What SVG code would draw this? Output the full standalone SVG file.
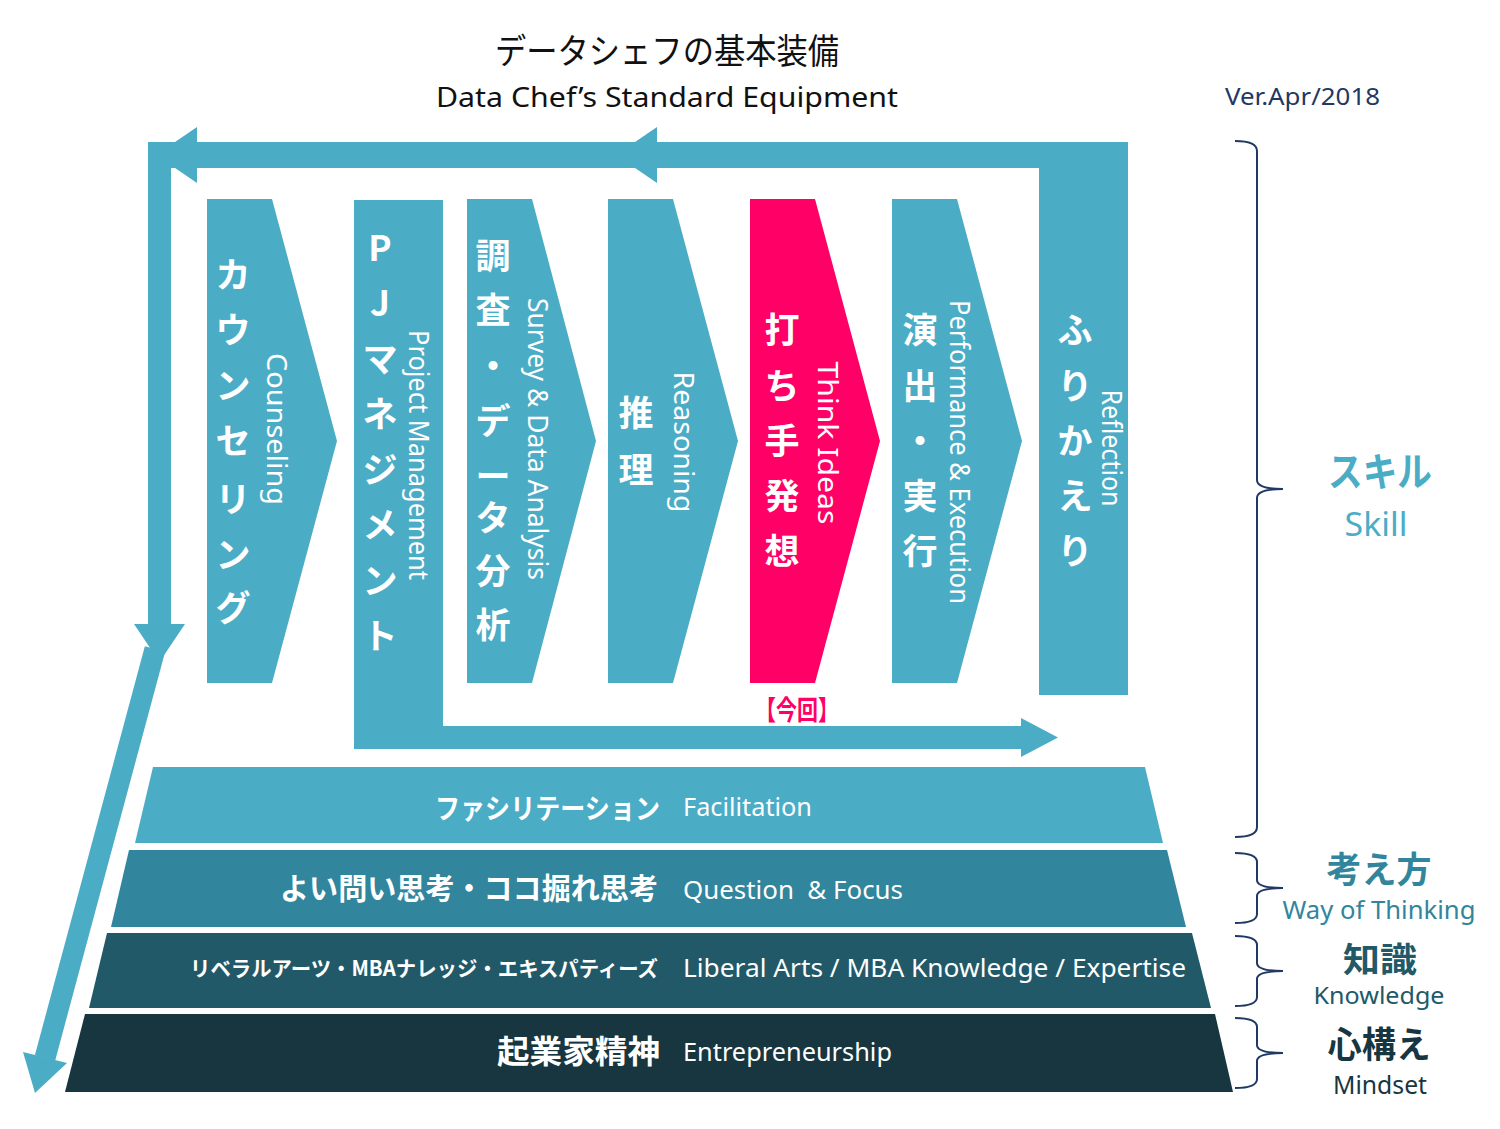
<svg xmlns="http://www.w3.org/2000/svg" width="1500" height="1129" viewBox="0 0 1500 1129">
<style>
.sk{fill:#4BACC6}
.pk{fill:#FF0066}
.jp{font-family:"Noto Sans CJK JP","Noto Sans",sans-serif;font-weight:700;fill:#fff;font-size:35px}
.en{font-family:"Noto Sans","Open Sans","Noto Sans CJK JP",sans-serif;fill:#fff;font-size:27px}
.lj{font-family:"Noto Sans CJK JP",sans-serif;font-weight:700;fill:#fff}
.le{font-family:"Noto Sans","Open Sans","Noto Sans CJK JP",sans-serif;fill:#fff;font-size:26px}
.brace{fill:none;stroke:#1F3864;stroke-width:2}
.rj{font-family:"Noto Sans CJK JP",sans-serif;font-weight:700;text-anchor:middle}
.re{font-family:"Noto Sans","Open Sans",sans-serif;text-anchor:middle}
</style>
<rect width="1500" height="1129" fill="#fff"/>

<g id="title">
<text x="667" y="64" font-family="Noto Sans CJK JP,sans-serif" font-size="35" fill="#111" text-anchor="middle" textLength="344" lengthAdjust="spacingAndGlyphs">データシェフの基本装備</text>
<text x="667" y="107" font-family="Noto Sans,Open Sans,sans-serif" font-size="28" fill="#111" text-anchor="middle" textLength="462" lengthAdjust="spacingAndGlyphs">Data Chef’s Standard Equipment</text>
<text x="1225" y="105" font-family="Noto Sans,Open Sans,sans-serif" font-size="24" fill="#1F3864" textLength="155" lengthAdjust="spacingAndGlyphs">Ver.Apr/2018</text>
</g>

<g id="connectors">
<rect class="sk" x="148" y="142" width="980" height="26"/>
<polygon class="sk" points="197,127 197,183 156,155"/>
<polygon class="sk" points="657,127 657,183 616,155"/>
<rect class="sk" x="148" y="142" width="23" height="483"/>
<polygon class="sk" points="134,624 185,624 159.5,662"/>
<line x1="155" y1="649" x2="45" y2="1058" stroke="#4BACC6" stroke-width="21"/>
<polygon class="sk" points="23,1052 67,1063 35,1093"/>
</g>

<g id="n-counseling">
<polygon class="sk" points="207,199 272,199 337,441 272,683 207,683"/>
<text class="jp" text-anchor="middle" dominant-baseline="central" x="233 233 233 233 233 233 233" y="272 327 383 438 496 552 605">カウンセリング</text>
<text class="en" text-anchor="middle" dominant-baseline="central" transform="translate(277,429) rotate(90)" textLength="152" lengthAdjust="spacingAndGlyphs">Counseling</text>
</g>

<g id="n-pj">
<rect class="sk" x="354" y="200" width="89" height="549"/>
<rect class="sk" x="443" y="726" width="579" height="23"/>
<polygon class="sk" points="1021,718 1021,757 1058,737.5"/>
<text class="jp" text-anchor="middle" dominant-baseline="central" x="380 380 380 380 380 380 380 380" y="245 300 356 411 467 522 578 633">PJマネジメント</text>
<text class="en" text-anchor="middle" dominant-baseline="central" transform="translate(419,455) rotate(90)" textLength="250" lengthAdjust="spacingAndGlyphs">Project Management</text>
</g>

<g id="n-survey">
<polygon class="sk" points="467,199 532,199 596,441 532,683 467,683"/>
<text class="jp" text-anchor="middle" dominant-baseline="central" x="493 493 493 493 493 493 493 493" y="253 307 363 418 473 515 568 622">調査・データ分析</text>
<text class="en" text-anchor="middle" dominant-baseline="central" transform="translate(538,439) rotate(90)" textLength="282" lengthAdjust="spacingAndGlyphs">Survey &amp; Data Analysis</text>
</g>

<g id="n-reasoning">
<polygon class="sk" points="608,199 673,199 738,441 673,683 608,683"/>
<text class="jp" text-anchor="middle" dominant-baseline="central" x="636 636" y="410 467">推理</text>
<text class="en" text-anchor="middle" dominant-baseline="central" transform="translate(684,442) rotate(90)" textLength="141" lengthAdjust="spacingAndGlyphs">Reasoning</text>
</g>

<g id="n-think">
<polygon class="pk" points="750,199 815,199 880,441 815,683 750,683"/>
<text class="jp" text-anchor="middle" dominant-baseline="central" x="782 782 782 782 782" y="327 383 438 493 548">打ち手発想</text>
<text class="en" text-anchor="middle" dominant-baseline="central" transform="translate(828,443) rotate(90)" textLength="163" lengthAdjust="spacingAndGlyphs">Think Ideas</text>
<text x="797" y="720" font-family="Noto Sans CJK JP,sans-serif" font-weight="700" font-size="27" fill="#FF0066" text-anchor="middle" textLength="84" lengthAdjust="spacingAndGlyphs">【今回】</text>
</g>

<g id="n-perform">
<polygon class="sk" points="892,199 957,199 1022,441 957,683 892,683"/>
<text class="jp" text-anchor="middle" dominant-baseline="central" x="920 920 920 920 920" y="327 383 438 493 548">演出・実行</text>
<text class="en" text-anchor="middle" dominant-baseline="central" transform="translate(960,452) rotate(90)" textLength="304" lengthAdjust="spacingAndGlyphs">Performance &amp; Execution</text>
</g>

<g id="n-reflection">
<rect class="sk" x="1039" y="142" width="89" height="553"/>
<text class="jp" text-anchor="middle" dominant-baseline="central" x="1075 1075 1075 1075 1075" y="327 383 438 493 548">ふりかえり</text>
<text class="en" text-anchor="middle" dominant-baseline="central" transform="translate(1112,448) rotate(90)" textLength="117" lengthAdjust="spacingAndGlyphs">Reflection</text>
</g>

<g id="layer-facilitation">
<polygon fill="#4BACC6" points="153,767 1145,767 1163,843 135,843"/>
<text class="lj" x="660" y="819" font-size="28" text-anchor="end" textLength="225" lengthAdjust="spacingAndGlyphs">ファシリテーション</text>
<text class="le" x="683" y="816" textLength="129" lengthAdjust="spacingAndGlyphs">Facilitation</text>
</g>

<g id="layer-question">
<polygon fill="#31859C" points="129,850 1167,850 1186,927 111,927"/>
<text class="lj" x="658" y="899" font-size="30" text-anchor="end" textLength="378" lengthAdjust="spacingAndGlyphs">よい問い思考・ココ掘れ思考</text>
<text class="le" x="683" y="899" textLength="220" lengthAdjust="spacingAndGlyphs" xml:space="preserve">Question  &amp; Focus</text>
</g>

<g id="layer-knowledge">
<polygon fill="#215968" points="107,933 1192,933 1211,1008 89,1008"/>
<text class="lj" x="658" y="976" font-size="21" text-anchor="end" textLength="468" lengthAdjust="spacingAndGlyphs">リベラルアーツ・MBAナレッジ・エキスパティーズ</text>
<text class="le" x="683" y="977" textLength="503" lengthAdjust="spacingAndGlyphs">Liberal Arts / MBA Knowledge / Expertise</text>
</g>

<g id="layer-mindset">
<polygon fill="#17363F" points="85,1014 1215,1014 1233,1092 65,1092"/>
<text class="lj" x="660" y="1063" font-size="32" text-anchor="end" textLength="163" lengthAdjust="spacingAndGlyphs">起業家精神</text>
<text class="le" x="683" y="1061" textLength="209" lengthAdjust="spacingAndGlyphs">Entrepreneurship</text>
</g>

<g id="legend-skill">
<path class="brace" d="M1235,141 Q1257,141 1257,151 L1257,480 Q1257,489 1283,489 Q1257,489 1257,498 L1257,827 Q1257,837 1235,837"/>
<text class="rj" x="1380" y="486" font-size="40" fill="#4BACC6" textLength="104" lengthAdjust="spacingAndGlyphs">スキル</text>
<text class="re" x="1376" y="536" font-size="33" fill="#4BACC6" textLength="63" lengthAdjust="spacingAndGlyphs">Skill</text>
</g>

<g id="legend-thinking">
<path class="brace" d="M1235,853 Q1257,853 1257,862 L1257,880 Q1257,888 1283,888 Q1257,888 1257,896 L1257,914 Q1257,923 1235,923"/>
<text class="rj" x="1379" y="883" font-size="36" fill="#31859C" textLength="105" lengthAdjust="spacingAndGlyphs">考え方</text>
<text class="re" x="1379" y="919" font-size="26" fill="#31859C" textLength="193" lengthAdjust="spacingAndGlyphs">Way of Thinking</text>
</g>

<g id="legend-knowledge">
<path class="brace" d="M1235,936 Q1257,936 1257,945 L1257,963 Q1257,971 1283,971 Q1257,971 1257,979 L1257,997 Q1257,1006 1235,1006"/>
<text class="rj" x="1380" y="972" font-size="34" fill="#215968" textLength="74" lengthAdjust="spacingAndGlyphs">知識</text>
<text class="re" x="1379" y="1004" font-size="24" fill="#215968" textLength="131" lengthAdjust="spacingAndGlyphs">Knowledge</text>
</g>

<g id="legend-mindset">
<path class="brace" d="M1235,1018 Q1257,1018 1257,1027 L1257,1045 Q1257,1053 1283,1053 Q1257,1053 1257,1061 L1257,1079 Q1257,1088 1235,1088"/>
<text class="rj" x="1379" y="1058" font-size="36" fill="#17363F" textLength="103" lengthAdjust="spacingAndGlyphs">心構え</text>
<text class="re" x="1380" y="1094" font-size="26" fill="#17363F" textLength="94" lengthAdjust="spacingAndGlyphs">Mindset</text>
</g>
</svg>
